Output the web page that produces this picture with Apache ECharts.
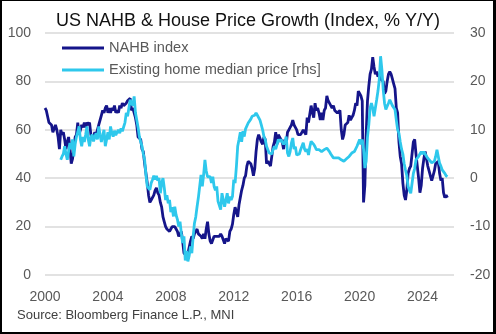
<!DOCTYPE html>
<html>
<head>
<meta charset="utf-8">
<script src="https://cdn.jsdelivr.net/npm/echarts@6/dist/echarts.min.js"></script>
<style>
  html, body { margin: 0; padding: 0; background: #ffffff; }
  #wrap { position: relative; width: 496px; height: 334px; }
  #chart { position: absolute; left: 0; top: 0; width: 496px; height: 334px; }
  #frame { position: absolute; left: 0; top: 0; width: 496px; height: 334px; box-sizing: border-box;
           border-style: solid; border-color: #000; border-width: 1px 3px 2px 2px; pointer-events: none; }
</style>
</head>
<body>
<div id="wrap"><div id="chart"></div><div id="frame"></div></div>
<script>
// NAHB housing market index, monthly from Jan 2000
const nahbStart = 2000;
const nahbIndex = [
  69, 68, 68, 63, 63, 62, 59, 59, 62, 60, 57, 52,
  60, 58, 59, 56, 52, 55, 57, 53, 46, 48, 52, 57,
  58, 63, 58, 60, 62, 61, 63, 61, 63, 62, 63, 58,
  56, 57, 59, 58, 60, 62, 64, 66, 68, 67, 69, 70,
  67, 69, 67, 69, 68, 70, 67, 68, 67, 70, 69, 71,
  70, 70, 71, 72, 72, 73, 68, 69, 67, 65, 62, 57,
  57, 56, 52, 51, 46, 42, 38, 33, 30, 31, 31, 33,
  35, 36, 34, 33, 30, 28, 24, 22, 20, 19, 19, 18,
  19, 20, 20, 20, 19, 18, 16, 16, 18, 14, 9, 9,
  8, 9, 9, 14, 16, 15, 17, 18, 19, 17, 17, 16,
  15, 17, 15, 19, 22, 17, 14, 13, 13, 16, 16, 16,
  16, 16, 17, 16, 16, 13, 15, 15, 14, 18, 19, 21,
  25, 28, 28, 24, 29, 29, 35, 37, 40, 41, 45, 47,
  47, 46, 44, 41, 44, 51, 56, 58, 58, 55, 54, 57,
  56, 46, 47, 46, 45, 49, 53, 55, 59, 54, 58, 57,
  57, 55, 52, 56, 54, 59, 60, 61, 62, 64, 62, 61,
  60, 58, 58, 58, 58, 60, 59, 58, 65, 63, 63, 70,
  67, 65, 71, 68, 69, 67, 64, 67, 64, 68, 69, 74,
  72, 71, 70, 69, 70, 68, 68, 67, 67, 68, 60, 56,
  58, 62, 62, 63, 66, 64, 65, 66, 68, 71, 70, 76,
  75, 74, 72, 30, 37, 58, 72, 78, 83, 85, 90, 86,
  83, 84, 82, 83, 81, 81, 80, 75, 76, 80, 83, 84,
  83, 81, 79, 77, 69, 67, 55, 49, 46, 38, 33, 31,
  35, 42, 44, 45, 50, 55, 56, 50, 45, 40, 34, 37,
  44, 48, 51, 51, 45, 43, 41, 39, 41, 43, 46, 46,
  47, 42, 39, 40, 34, 32, 33, 32
];

// Existing home median price, % Y/Y, monthly from Jan 2001
const priceStart = 2001;
const priceYoY = [
  3.8, 4.5, 5.0, 6.6, 5.0, 3.8, 5.5, 7.3, 6.0, 8.0, 4.5, 7.0,
  8.6, 9.5, 10.7, 8.0, 6.6, 8.5, 7.5, 9.0, 10.7, 8.0, 6.6, 8.5,
  9.0, 7.6, 8.5, 9.3, 8.0, 10.7, 9.0, 7.5, 8.8, 10.0, 6.6, 8.0,
  9.5, 8.0, 10.7, 9.3, 8.6, 9.8, 8.9, 9.5, 10.0, 9.3, 10.3, 9.7,
  10.0, 11.5, 13.5, 12.8, 14.5, 16.2, 15.5, 15.0, 16.9, 13.5, 12.0, 10.5,
  8.6, 7.5, 6.6, 5.0, 3.8, 0.7, -1.7, -1.5, -2.4, -1.0, -0.3, 0.5,
  -0.3, 0.5, -0.5, 0.0, -3.1, -1.0, 0.0, -2.0, -4.5, -3.5, -5.2, -4.5,
  -7.0, -6.0, -7.9, -5.9, -7.6, -8.5, -10.0, -9.0, -11.4, -13.4, -12.0, -17.0,
  -15.0, -17.2, -16.0, -14.1, -15.5, -12.1, -9.3, -8.0, -5.9, -4.0, -1.7, 0.7,
  -1.7, 0.7, 3.8, 1.5, 0.3, 0.7, 0.3, -1.0, 0.3, -1.7, -2.5, -1.7,
  -4.8, -5.2, -6.5, -3.1, -4.5, -5.9, -4.5, -3.1, -5.2, -3.8, -4.5, -3.8,
  -0.3, -1.0, 2.4, 6.6, 8.0, 9.5, 7.5, 9.7, 8.6, 10.2, 10.5, 11.4,
  11.4, 12.2, 12.8, 12.5, 13.0, 13.5, 13.0, 13.2, 12.0, 11.0, 10.0, 8.6,
  8.0, 6.6, 5.9, 5.2, 5.5, 5.0, 5.9, 6.6, 6.0, 7.0, 8.0, 7.5,
  8.0, 8.0, 7.0, 7.5, 8.6, 5.2, 4.5, 5.5, 7.3, 8.3, 6.0, 6.5,
  4.8, 5.2, 5.0, 5.9, 5.9, 7.3, 6.0, 5.5, 6.0, 4.8, 6.5, 7.6,
  7.6, 7.0, 6.5, 5.9, 6.2, 5.9, 6.0, 5.5, 5.9, 5.9, 6.0, 6.2,
  6.0, 5.5, 5.0, 4.8, 4.2, 4.5, 4.2, 4.0, 4.2, 3.8, 3.8, 3.6,
  3.5, 3.8, 4.0, 4.2, 4.5, 4.5, 5.2, 4.8, 5.5, 5.8, 6.6, 7.0,
  8.0, 7.0, 8.0, 6.0, 2.1, 3.5, 8.5, 11.0, 14.5, 15.5, 14.5, 12.8,
  14.5, 16.2, 18.0, 20.4, 25.2, 22.4, 18.3, 15.5, 14.2, 14.5, 15.5, 16.2,
  15.8, 15.0, 15.2, 14.2, 12.0, 10.0, 9.3, 7.5, 6.0, 5.0, 3.0, 1.7,
  0.5, -1.7, -2.5, -3.1, -3.1, 1.0, 2.0, 3.8, 3.8, 4.5, 5.0, 5.5,
  5.0, 5.5, 5.0, 4.5, 4.8, 3.8, 3.8, 3.2, 3.0, 3.5, 4.5, 5.9,
  4.5, 3.1, 2.5, 1.7, 1.7, 1.0, 0.5, 0.3
];

// Axis ranges and tick steps
const yearTicks = [2000, 2004, 2008, 2012, 2016, 2020, 2024];
const leftAxis = { min: 0, max: 100, step: 20 };
const rightAxis = { min: -20, max: 30, step: 10 };

const seriesNames = ['NAHB index', 'Existing home median price [rhs]'];
const titleText = 'US NAHB & House Price Growth (Index, % Y/Y)';
const sourceText = 'Source: Bloomberg Finance L.P., MNI';

function monthly(start, values) {
  return values.map((v, i) => [start + i / 12, v]);
}

const FONT = 'Liberation Sans, Arial, sans-serif';
const labelGrey = '#595959';
const navy = '#15158a';
const cyan = '#2ec8ec';

const chart = echarts.init(document.getElementById('chart'), null, { renderer: 'canvas' });
chart.setOption({
  animation: false,
  backgroundColor: '#ffffff',
  title: {
    text: titleText,
    left: 'center',
    top: 7,
    textStyle: { fontFamily: FONT, fontSize: 18, fontWeight: 'normal', color: '#111111' }
  },
  legend: {
    orient: 'vertical',
    left: 57,
    top: 34,
    padding: 5,
    itemWidth: 42,
    itemHeight: 3,
    itemGap: 4,
    icon: 'rect',
    textStyle: { fontFamily: FONT, fontSize: 14.6, color: labelGrey, lineHeight: 18 },
    data: seriesNames
  },
  grid: { left: 45, right: 42, top: 33, bottom: 59 },
  xAxis: {
    type: 'value',
    min: 2000,
    max: 2026,
    interval: 4,
    axisLine: { show: false },
    axisTick: { show: false },
    splitLine: { show: false },
    axisLabel: {
      margin: 15,
      fontFamily: FONT, fontSize: 14, color: labelGrey,
      formatter: v => (yearTicks.indexOf(v) >= 0 ? String(v) : '')
    }
  },
  yAxis: [
    {
      type: 'value',
      min: leftAxis.min, max: leftAxis.max, interval: leftAxis.step,
      axisLine: { show: false },
      axisTick: { show: false },
      axisLabel: { margin: 14, fontFamily: FONT, fontSize: 14, color: labelGrey },
      splitLine: { lineStyle: { color: '#d9d9d9', width: 1.5 } }
    },
    {
      type: 'value',
      min: rightAxis.min, max: rightAxis.max, interval: rightAxis.step,
      axisLine: { show: false },
      axisTick: { show: false },
      axisLabel: { margin: 16, fontFamily: FONT, fontSize: 14, color: labelGrey },
      splitLine: { show: false }
    }
  ],
  series: [
    {
      name: seriesNames[0],
      type: 'line',
      yAxisIndex: 0,
      showSymbol: false,
      symbol: 'none',
      color: navy,
      lineStyle: { width: 2.8, color: navy },
      data: monthly(nahbStart, nahbIndex),
      z: 2
    },
    {
      name: seriesNames[1],
      type: 'line',
      yAxisIndex: 1,
      showSymbol: false,
      symbol: 'none',
      color: cyan,
      lineStyle: { width: 2.8, color: cyan },
      data: monthly(priceStart, priceYoY),
      z: 3
    }
  ],
  graphic: [
    {
      type: 'text',
      left: 17,
      top: 309,
      style: { text: sourceText, font: '13px ' + FONT, fill: '#404040' }
    }
  ]
});
</script>
</body>
</html>
